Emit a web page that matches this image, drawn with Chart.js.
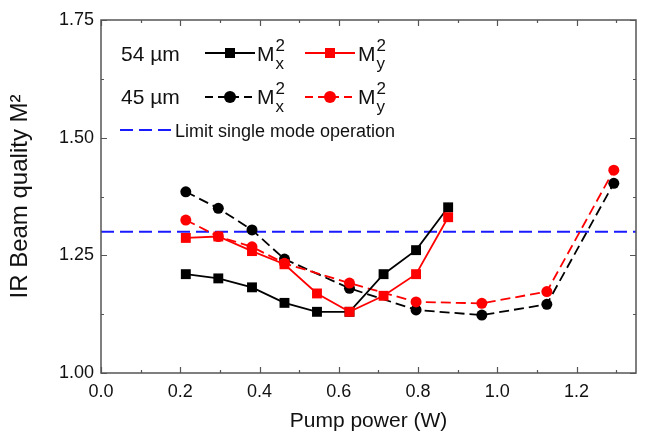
<!DOCTYPE html>
<html>
<head>
<meta charset="utf-8">
<script src="https://cdn.jsdelivr.net/npm/chart.js@4.4.1/dist/chart.umd.min.js"></script>
<style>
  html, body { margin: 0; padding: 0; background: #fff; }
  #wrap { width: 646px; height: 434px; }
</style>
</head>
<body>
<div id="wrap"><canvas id="chart" width="646" height="434"></canvas></div>
<script>
// 54 µm
const power54 = [0.214, 0.296, 0.381, 0.463, 0.545, 0.627, 0.713, 0.795, 0.876];
const mx54 = [1.210, 1.201, 1.182, 1.149, 1.130, 1.130, 1.210, 1.261, 1.352];
const my54 = [1.287, 1.290, 1.259, 1.231, 1.169, 1.130, 1.164, 1.210, 1.331];
// 45 µm
const power45 = [0.214, 0.296, 0.381, 0.463, 0.627, 0.795, 0.961, 1.125, 1.294];
const mx45 = [1.385, 1.350, 1.304, 1.242, 1.180, 1.134, 1.123, 1.146, 1.403];
const my45 = [1.325, 1.290, 1.268, 1.233, 1.191, 1.151, 1.148, 1.173, 1.431];
// single mode limit
const limitValue = 1.3;
const xRange = [0, 1.35];
const yRange = [1.0, 1.75];
const xStep = 0.2;
const yStep = 0.25;

const FONT = "'Liberation Sans', Arial, sans-serif";
const frameColor = "#555";

function pts(xs, ys) {
    return xs.map((x, i) => ({ x: x, y: ys[i] }));
}

// frame + inward ticks on all four sides
const framePlugin = {
    id: "frame",
    afterDraw(chart) {
        const ctx = chart.ctx;
        const a = chart.chartArea;
        const xs = chart.scales.x;
        const ys = chart.scales.y;
        ctx.save();
        ctx.strokeStyle = frameColor;
        ctx.lineWidth = 1.5;
        ctx.strokeRect(a.left, a.top, a.right - a.left, a.bottom - a.top);
        ctx.lineWidth = 1.2;
        ctx.beginPath();
        for (let v = xRange[0]; v <= xRange[1] + 1e-9; v += xStep / 2) {
            const major = Math.abs(v / xStep - Math.round(v / xStep)) < 1e-6;
            const len = major ? 6 : 3;
            const px = Math.round(xs.getPixelForValue(v)) + 0.5;
            ctx.moveTo(px, a.bottom); ctx.lineTo(px, a.bottom - len);
            ctx.moveTo(px, a.top); ctx.lineTo(px, a.top + len);
        }
        for (let v = yRange[0]; v <= yRange[1] + 1e-9; v += yStep / 2) {
            const major = Math.abs(v / yStep - Math.round(v / yStep)) < 1e-6;
            const len = major ? 6 : 3;
            const py = Math.round(ys.getPixelForValue(v)) + 0.5;
            ctx.moveTo(a.left, py); ctx.lineTo(a.left + len, py);
            ctx.moveTo(a.right, py); ctx.lineTo(a.right - len, py);
        }
        ctx.stroke();
        ctx.restore();
    }
};

// M with subscript and superscript
function drawM(ctx, x, y, sub) {
    ctx.font = "21px " + FONT;
    ctx.fillText("M", x, y);
    const w = ctx.measureText("M").width;
    ctx.font = "17px " + FONT;
    ctx.fillText("2", x + w + 1, y - 10);
    ctx.fillText(sub, x + w + 1, y + 8);
}

function legendLine(ctx, x0, x1, y, color, dashed, marker) {
    ctx.save();
    ctx.strokeStyle = color;
    ctx.fillStyle = color;
    ctx.lineWidth = 1.8;
    ctx.setLineDash(dashed ? [8, 5] : []);
    ctx.beginPath();
    ctx.moveTo(x0, y); ctx.lineTo(x1, y);
    ctx.stroke();
    const cx = (x0 + x1) / 2;
    if (marker === "rect") {
        ctx.fillRect(cx - 5, y - 5, 10, 10);
    } else {
        ctx.beginPath();
        ctx.arc(cx, y, 6, 0, Math.PI * 2);
        ctx.fill();
    }
    ctx.restore();
}

const legendPlugin = {
    id: "customLegend",
    afterDraw(chart) {
        const ctx = chart.ctx;
        ctx.save();
        ctx.fillStyle = "#111";
        ctx.textBaseline = "alphabetic";
        ctx.textAlign = "left";

        ctx.font = "21px " + FONT;
        ctx.fillText("54 µm", 121, 61);
        legendLine(ctx, 205, 255, 53, "#000", false, "rect");
        ctx.fillStyle = "#111";
        drawM(ctx, 257, 61, "x");
        legendLine(ctx, 305, 355, 53, "#ff0000", false, "rect");
        ctx.fillStyle = "#111";
        drawM(ctx, 358, 61, "y");

        ctx.font = "21px " + FONT;
        ctx.fillText("45 µm", 121, 104);
        legendLine(ctx, 205, 255, 97, "#000", true, "circle");
        ctx.fillStyle = "#111";
        drawM(ctx, 257, 104, "x");
        legendLine(ctx, 305, 355, 97, "#ff0000", true, "circle");
        ctx.fillStyle = "#111";
        drawM(ctx, 358, 104, "y");

        ctx.strokeStyle = "#1a1aff";
        ctx.lineWidth = 2;
        ctx.setLineDash([13, 6]);
        ctx.beginPath();
        ctx.moveTo(120, 130); ctx.lineTo(172, 130);
        ctx.stroke();
        ctx.fillStyle = "#111";
        ctx.font = "18px " + FONT;
        ctx.fillText("Limit single mode operation", 175, 137);
        ctx.restore();
    }
};

const ctx = document.getElementById("chart").getContext("2d");
new Chart(ctx, {
    type: "scatter",
    data: {
        datasets: [
            {
                label: "54 µm My",
                data: pts(power54, my54),
                showLine: true,
                borderColor: "#ff0000",
                backgroundColor: "#ff0000",
                borderWidth: 1.8,
                pointStyle: "rect",
                pointRadius: 7,
                pointBorderWidth: 0
            },
            {
                label: "54 µm Mx",
                data: pts(power54, mx54),
                showLine: true,
                borderColor: "#000",
                backgroundColor: "#000",
                borderWidth: 1.8,
                pointStyle: "rect",
                pointRadius: 7,
                pointBorderWidth: 0
            },
            {
                label: "45 µm My",
                data: pts(power45, my45),
                showLine: true,
                borderColor: "#ff0000",
                backgroundColor: "#ff0000",
                borderWidth: 1.8,
                borderDash: [10, 5],
                pointStyle: "circle",
                pointRadius: 5.5,
                pointBorderWidth: 0
            },
            {
                label: "45 µm Mx",
                data: pts(power45, mx45),
                showLine: true,
                borderColor: "#000",
                backgroundColor: "#000",
                borderWidth: 1.8,
                borderDash: [10, 5],
                pointStyle: "circle",
                pointRadius: 5.5,
                pointBorderWidth: 0
            },
            {
                label: "Limit single mode operation",
                data: [{ x: xRange[0], y: limitValue }, { x: xRange[1], y: limitValue }],
                showLine: true,
                borderColor: "#1a1aff",
                borderWidth: 2,
                borderDash: [13, 6],
                pointRadius: 0
            }
        ]
    },
    options: {
        responsive: false,
        animation: false,
        layout: { padding: { top: 20, right: 10, left: 0, bottom: 0 } },
        plugins: {
            legend: { display: false },
            tooltip: { enabled: false }
        },
        scales: {
            x: {
                type: "linear",
                min: xRange[0],
                max: xRange[1],
                grid: { display: false, drawTicks: false },
                border: { display: false },
                afterFit(scale) { scale.height = 61; },
                ticks: {
                    stepSize: xStep,
                    includeBounds: false,
                    padding: 8,
                    color: "#111",
                    font: { family: FONT, size: 18 },
                    callback: v => v.toFixed(1)
                },
                title: {
                    display: true,
                    text: "Pump power (W)",
                    color: "#111",
                    font: { family: FONT, size: 21 },
                    padding: { top: 0, bottom: 0 }
                }
            },
            y: {
                type: "linear",
                min: yRange[0],
                max: yRange[1],
                grid: { display: false, drawTicks: false },
                border: { display: false },
                afterFit(scale) { scale.width = 101; },
                ticks: {
                    stepSize: yStep,
                    padding: 7,
                    color: "#111",
                    font: { family: FONT, size: 18 },
                    callback: v => v.toFixed(2)
                },
                title: {
                    display: true,
                    text: "IR Beam quality M²",
                    color: "#111",
                    font: { family: FONT, size: 24 },
                    padding: { top: 6, bottom: 0 }
                }
            }
        }
    },
    plugins: [framePlugin, legendPlugin]
});
</script>
</body>
</html>
